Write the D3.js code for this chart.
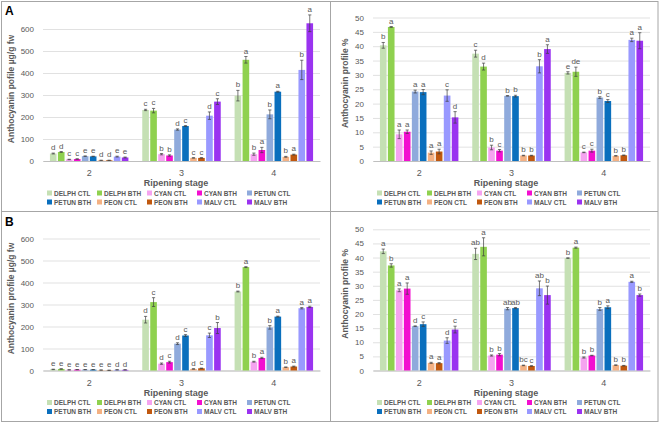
<!DOCTYPE html>
<html>
<head>
<meta charset="utf-8">
<script src="https://cdn.jsdelivr.net/npm/d3@7"></script>
<style>
  body { margin: 0; background: #fff; }
  svg { display: block; font-family: "Liberation Sans", Arial, sans-serif; }
</style>
</head>
<body>
<svg id="chart" width="661" height="424"></svg>
<script>
const stages = ['2', '3', '4']
const series = ['DELPH CTL', 'DELPH BTH', 'CYAN CTL', 'CYAN BTH', 'PETUN CTL',
  'PETUN BTH', 'PEON CTL', 'PEON BTH', 'MALV CTL', 'MALV BTH']
const colors = ['#c5e0b4', '#8fd14f', '#f5a3f0', '#f20fd0', '#8faadc',
  '#0a6fbd', '#f4b183', '#c0580f', '#9999ff', '#9a33f0']

const concTicks = [0, 100, 200, 300, 400, 500, 600]
const pctTicks = [0, 5, 10, 15, 20, 25, 30, 35, 40, 45, 50]

// A - concentration (µg/g fw), one row per stage
const aConc = [
  [34, 41, 7, 9, 22, 21, 3, 3, 20, 16],
  [232, 229, 31, 25, 143, 159, 14, 14, 206, 270],
  [297, 460, 31, 50, 212, 315, 19, 29, 414, 626]
]
const aConcErr = [
  [2, 2, 1, 1, 1, 1, 0.5, 0.5, 2, 2],
  [3, 10, 3, 3, 3, 2, 1, 1, 17, 13],
  [24, 15, 5, 12, 20, 2, 2, 2, 44, 38]
]
const aConcLetters = [
  ['d', 'd', 'c', 'c', 'e', 'e', 'd', 'd', 'e', 'e'],
  ['c', 'c', 'b', 'b', 'd', 'c', 'c', 'c', 'd', 'c'],
  ['b', 'a', 'b', 'a', 'b', 'a', 'b', 'a', 'b', 'a']
]

// A - profile %
const aPct = [
  [40.3, 46.7, 9.3, 10.2, 24.2, 24.0, 2.9, 3.3, 22.8, 15.2],
  [37.4, 32.9, 4.7, 3.6, 22.7, 22.6, 1.9, 1.9, 33.0, 39.0],
  [30.7, 31.1, 3.0, 3.6, 22.1, 20.9, 1.8, 2.0, 42.2, 41.9]
]
const aPctErr = [
  [1.0, 0.15, 1.5, 0.6, 0.5, 0.9, 0.6, 0.8, 2.0, 2.0],
  [1.2, 1.2, 0.8, 0.4, 0.1, 0.3, 0.1, 0.1, 2.3, 1.5],
  [0.4, 1.6, 0.1, 0.5, 0.3, 0.5, 0.1, 0.1, 0.6, 2.8]
]
const aPctLetters = [
  ['b', 'a', 'a', 'a', 'a', 'a', 'a', 'a', 'c', 'd'],
  ['c', 'd', 'b', 'c', 'b', 'b', 'b', 'b', 'b', 'a'],
  ['e', 'de', 'c', 'c', 'b', 'c', 'b', 'b', 'a', 'a']
]

// B - concentration (µg/g fw)
const bConc = [
  [5, 7, 3, 4, 4, 4, 2, 1, 3, 3],
  [231, 311, 31, 38, 122, 159, 7, 10, 160, 193],
  [359, 470, 40, 57, 196, 245, 15, 18, 283, 289]
]
const bConcErr = [
  [1, 1, 0.5, 0.5, 0.5, 0.5, 0.3, 0.3, 0.5, 0.5],
  [15, 20, 3, 4, 4, 4, 1, 1, 10, 25],
  [2, 2, 2, 3, 8, 2, 1, 2, 3, 3]
]
const bConcLetters = [
  ['e', 'e', 'e', 'e', 'e', 'e', 'e', 'e', 'd', 'd'],
  ['d', 'c', 'd', 'c', 'd', 'c', 'd', 'c', 'c', 'b'],
  ['b', 'a', 'b', 'a', 'b', 'a', 'b', 'a', 'a', 'a']
]

// B - profile %
const bPct = [
  [42.2, 37.2, 28.4, 29.0, 15.7, 16.4, 2.7, 2.6, 10.6, 14.5],
  [41.3, 43.8, 5.3, 5.6, 21.9, 22.1, 1.8, 1.6, 29.1, 26.7],
  [39.8, 43.5, 4.6, 5.3, 21.8, 22.4, 1.9, 1.7, 31.4, 26.7]
]
const bPctErr = [
  [0.8, 0.6, 0.5, 2.0, 0.1, 0.8, 0.2, 0.2, 1.0, 1.2],
  [2.0, 3.2, 0.2, 0.4, 0.4, 0.2, 0.1, 0.1, 2.6, 3.2],
  [0.1, 0.2, 0.2, 0.1, 0.5, 0.5, 0.1, 0.1, 0.2, 0.4]
]
const bPctLetters = [
  ['a', 'b', 'a', 'a', 'd', 'c', 'a', 'a', 'd', 'c'],
  ['ab', 'a', 'b', 'b', 'ab', 'ab', 'bc', 'c', 'ab', 'b'],
  ['b', 'a', 'b', 'b', 'b', 'a', 'b', 'b', 'a', 'b']
]

const textColor = '#595959'
const svg = d3.select('#chart')

// frame round the four panels
svg.append('rect')
  .attr('x', 1.5).attr('y', 1.5).attr('width', 656.5).attr('height', 420)
  .attr('fill', 'none').attr('stroke', '#a6a6a6')
svg.append('line').attr('x1', 330.5).attr('x2', 330.5).attr('y1', 1.5).attr('y2', 421.5)
  .attr('stroke', '#a6a6a6')
svg.append('line').attr('x1', 1.5).attr('x2', 658).attr('y1', 211.5).attr('y2', 211.5)
  .attr('stroke', '#a6a6a6')

const panels = [
  { ox: 0, oy: 0, label: 'A', title: 'Anthocyanin pofile µg/g fw', titleX: 14, ticks: concTicks,
    y0: 161, y1: 29, values: aConc, errs: aConcErr, letters: aConcLetters },
  { ox: 330, oy: 0, title: 'Anthocyanin profile %', titleX: 18, ticks: pctTicks,
    y0: 161, y1: 17.5, values: aPct, errs: aPctErr, letters: aPctLetters },
  { ox: 0, oy: 211, label: 'B', title: 'Anthocyanin profile µg/g fw', titleX: 14, ticks: concTicks,
    y0: 159.5, y1: 27.5, values: bConc, errs: bConcErr, letters: bConcLetters },
  { ox: 330, oy: 211, title: 'Anthocyanin profile %', titleX: 18, ticks: pctTicks,
    y0: 159.5, y1: 18.3, values: bPct, errs: bPctErr, letters: bPctLetters },
]

panels.forEach(p => drawPanel(p))

function drawPanel(p) {
  const g = svg.append('g').attr('transform', `translate(${p.ox},${p.oy})`)
  const plotLeft = 43
  const plotRight = 320
  const maxTick = p.ticks[p.ticks.length - 1]

  const x = d3.scaleBand(stages, [plotLeft, plotRight])
    .paddingInner(0.15).paddingOuter(0.075)
  const xs = d3.scaleBand(series, [0, x.bandwidth()]).paddingInner(0.17)
  const y = d3.scaleLinear([0, maxTick], [p.y0, p.y1])

  if (p.label) {
    g.append('text').attr('x', 5).attr('y', 15)
      .attr('font-size', 12).attr('font-weight', 'bold').attr('fill', '#000')
      .text(p.label)
  }

  // grid + y tick labels
  const yAxis = d3.axisLeft(y).tickValues(p.ticks)
    .tickSize(-(plotRight - plotLeft)).tickPadding(9)
  const ya = g.append('g').attr('transform', `translate(${plotLeft},0)`).call(yAxis)
  ya.select('.domain').remove()
  ya.selectAll('.tick line').attr('stroke', '#d9d9d9').attr('stroke-width', 0.8)
  ya.selectAll('.tick text').attr('fill', textColor).attr('font-size', 8)
    .attr('font-family', '"Liberation Sans", Arial, sans-serif')

  // category axis
  const xAxis = d3.axisBottom(x).tickSize(0).tickPadding(9)
  const xa = g.append('g').attr('transform', `translate(0,${p.y0})`).call(xAxis)
  xa.select('.domain').attr('stroke', '#bfbfbf')
  xa.selectAll('.tick text').attr('fill', textColor).attr('font-size', 9)
    .attr('font-family', '"Liberation Sans", Arial, sans-serif')

  // axis titles
  g.append('text')
    .attr('transform', `translate(${p.titleX},${(p.y0 + p.y1) / 2 - 6}) rotate(-90)`)
    .attr('text-anchor', 'middle').attr('font-size', 8.5).attr('font-weight', 'bold')
    .attr('fill', textColor).text(p.title)
  g.append('text')
    .attr('x', 176).attr('y', p.y0 + 25)
    .attr('text-anchor', 'middle').attr('font-size', 9).attr('font-weight', 'bold')
    .attr('fill', textColor).text('Ripening stage')

  // bars
  const rows = []
  stages.forEach((st, i) => {
    series.forEach((s, j) => {
      rows.push({ stage: st, series: s, idx: j, v: p.values[i][j],
        e: p.errs[i][j], letter: p.letters[i][j] })
    })
  })
  const bx = d => x(d.stage) + xs(d.series)
  const bw = xs.bandwidth()

  g.append('g').selectAll('rect').data(rows).join('rect')
    .attr('x', bx).attr('width', bw)
    .attr('y', d => y(d.v)).attr('height', d => p.y0 - y(d.v))
    .attr('fill', d => colors[d.idx])

  // error bars
  const eb = g.append('g').attr('stroke', '#3f3f3f').attr('stroke-width', 0.7)
  eb.selectAll('line.v').data(rows).join('line').attr('class', 'v')
    .attr('x1', d => bx(d) + bw / 2).attr('x2', d => bx(d) + bw / 2)
    .attr('y1', d => y(d.v + d.e)).attr('y2', d => y(Math.max(0, d.v - d.e)))
  eb.selectAll('line.t').data(rows).join('line').attr('class', 't')
    .attr('x1', d => bx(d) + bw / 2 - 1.6).attr('x2', d => bx(d) + bw / 2 + 1.6)
    .attr('y1', d => y(d.v + d.e)).attr('y2', d => y(d.v + d.e))
  eb.selectAll('line.b').data(rows).join('line').attr('class', 'b')
    .attr('x1', d => bx(d) + bw / 2 - 1.6).attr('x2', d => bx(d) + bw / 2 + 1.6)
    .attr('y1', d => y(Math.max(0, d.v - d.e))).attr('y2', d => y(Math.max(0, d.v - d.e)))

  // significance letters
  g.append('g').selectAll('text').data(rows).join('text')
    .attr('x', d => bx(d) + bw / 2).attr('y', d => y(d.v + d.e) - 3)
    .attr('text-anchor', 'middle').attr('font-size', 8).attr('fill', textColor)
    .text(d => d.letter)

  // legend, two rows of five
  const lg = g.append('g')
  series.forEach((s, i) => {
    const lx = 47 + (i % 5) * 50
    const ly = p.y0 + 32 + Math.floor(i / 5) * 9
    lg.append('rect').attr('x', lx).attr('y', ly - 2.5).attr('width', 5).attr('height', 5)
      .attr('fill', colors[i])
    lg.append('text').attr('x', lx + 7).attr('y', ly + 2.5)
      .attr('font-size', 6.5).attr('font-weight', 'bold').attr('fill', textColor)
      .text(s)
  })
}
</script>
</body>
</html>
